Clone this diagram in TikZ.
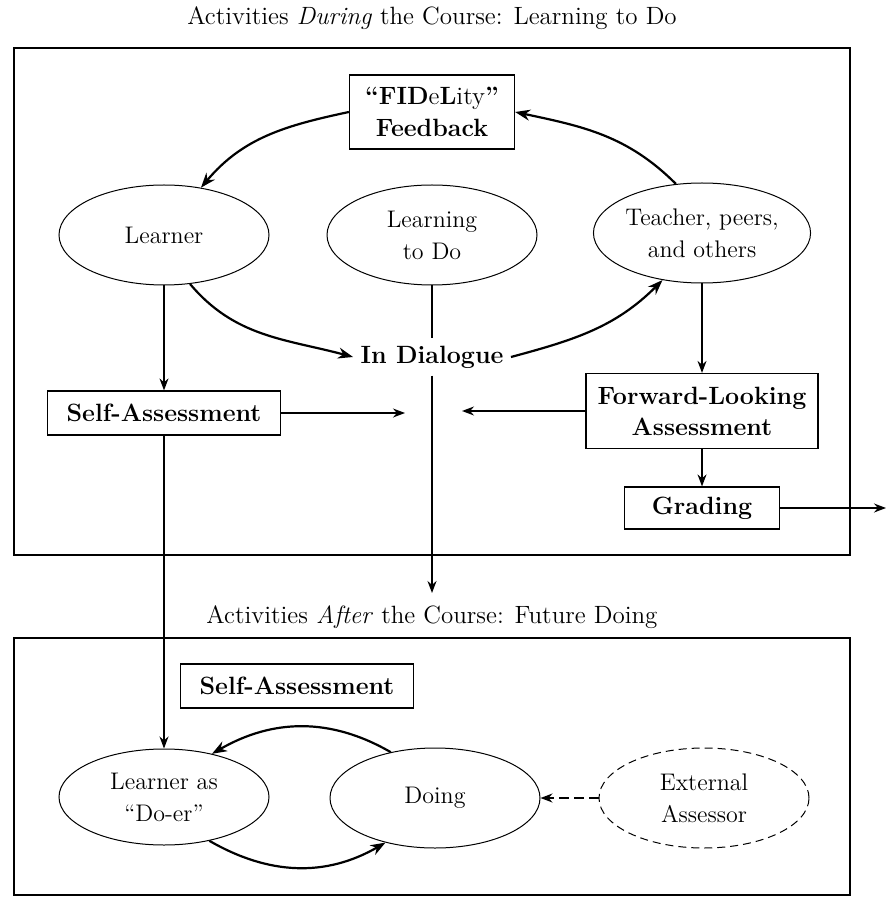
\documentclass[tikz,border=0pt]{standalone}
\usetikzlibrary{shapes.geometric,arrows.meta}
\begin{document}
\begin{tikzpicture}[x=0.5pt,y=-0.5pt,>={Stealth[length=6pt,width=4.5pt]},thick,
        every node/.style={font=\fontsize{12}{16}\selectfont,align=center},
        oval node/.style={ellipse,draw,line width=0.5pt,minimum width=105pt,minimum height=50pt,inner sep=0pt},
        box node/.style={draw,line width=0.6pt,inner sep=0pt,font=\fontsize{12.5}{15.5}\selectfont\bfseries},
        title node/.style={font=\fontsize{12.5}{15}\selectfont},
        link/.style={->,line width=0.7pt},
        loop link/.style={-{Stealth[length=7.5pt,width=5.5pt]},line width=1.1pt},
        frame/.style={line width=1.1pt}]
                \useasboundingbox (0,0) rectangle (886,897);

                \node[title node] (during) at (432,18) {Activities \emph{During} the Course: Learning to Do};
                \draw[frame] (14,48) rectangle (850,555);

                \node[box node,minimum width=82.5pt,minimum height=37pt,font=\fontsize{12.5}{16}\selectfont] (fid) at (432,112) {\textbf{``FID}e\textbf{L}ity\textbf{''}\\\textbf{Feedback}};
                \node[oval node] (learner) at (164,235) {Learner};
                \node[oval node] (ltd) at (432,235) {Learning\\to Do};
                \node[oval node] (teacher) at (702,233) {Teacher, peers,\\and others};
                \node[font=\fontsize{12.5}{14}\selectfont\bfseries] (dialogue) at (432,357) {In Dialogue};
                \node[box node,minimum width=116.5pt,minimum height=22pt] (sa1) at (164,413) {Self-Assessment};
                \node[box node,minimum width=116pt,minimum height=37.5pt] (fla) at (702,411) {Forward-Looking\\Assessment};
                \node[box node,minimum width=77.5pt,minimum height=21pt] (grading) at (702,508) {Grading};
                \coordinate (mid1) at (405,413);
                \coordinate (mid2) at (462,411);
                \coordinate (down) at (432,593);
                \coordinate (out) at (886,508);

                \node[title node] (after) at (432,617) {Activities \emph{After} the Course: Future Doing};
                \draw[frame] (14,638) rectangle (850,895);

                \node[box node,minimum width=116.5pt,minimum height=22pt] (sa2) at (297,686) {Self-Assessment};
                \node[oval node,minimum height=48pt] (doer) at (164,797) {Learner as\\``Do-er''};
                \node[oval node] (doing) at (435,798) {Doing};
                \node[oval node,dash pattern=on 4pt off 2.5pt] (ext) at (704,798) {External\\Assessor};

                \path[loop link]
                    (fid.west) edge [out=192,in=50] (learner.52)
                    (teacher.118) edge [out=135,in=-12] (fid.east)
                    (learner.-62) edge [out=-50,in=165] (dialogue.west)
                    (dialogue.east) edge [out=15,in=-135] (teacher.-130)
                    (doing.134) edge [out=150,in=30] (doer.42)
                    (doer.-44) edge [out=-30,in=-150] (doing.-138)
                    ;
                \path[link]
                    (learner) edge (sa1)
                    (sa1.east) edge (mid1)
                    (fla.west) edge (mid2)
                    (teacher) edge (fla)
                    (fla) edge (grading)
                    (grading.east) edge (out)
                    (dialogue.south) edge (down)
                    (sa1) edge (doer)
                    (ext.west) edge [dash pattern=on 5pt off 2.5pt] (doing.east)
                    ;
                \draw[line width=0.7pt] (ltd.south) -- (dialogue.north);
            \end{tikzpicture}
\end{document}
